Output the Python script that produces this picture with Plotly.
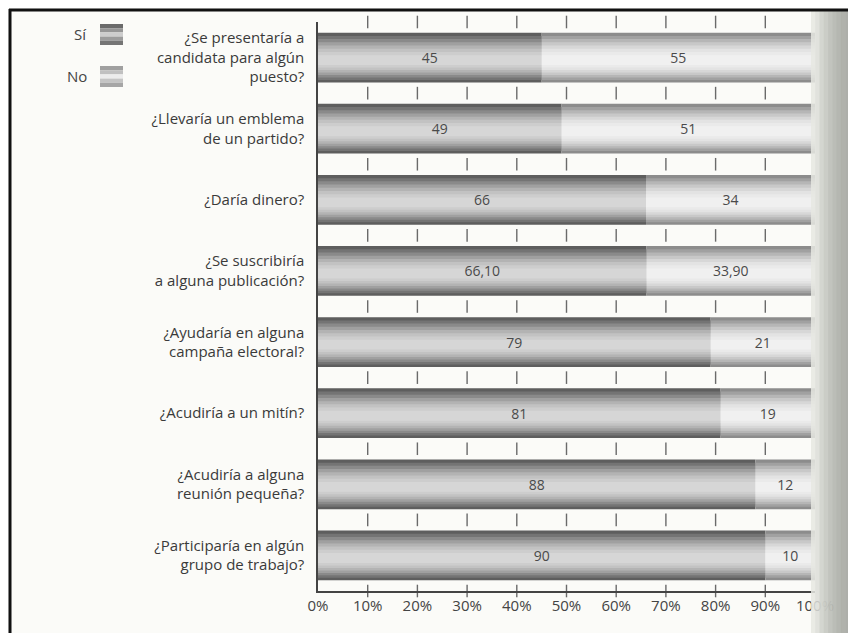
import plotly.graph_objects as go

# ---------------- data ----------------
categories = [
    "¿Se presentaría a<br>candidata para algún<br>puesto?",
    "¿Llevaría un emblema<br>de un partido?",
    "¿Daría dinero?",
    "¿Se suscribiría<br>a alguna publicación?",
    "¿Ayudaría en alguna<br>campaña electoral?",
    "¿Acudiría a un mitín?",
    "¿Acudiría a alguna<br>reunión pequeña?",
    "¿Participaría en algún<br>grupo de trabajo?",
]
si_values = [45, 49, 66, 66.10, 79, 81, 88, 90]
no_values = [55, 51, 34, 33.90, 21, 19, 12, 10]
series_names = ["Sí", "No"]
x_ticks = [0, 10, 20, 30, 40, 50, 60, 70, 80, 90, 100]
x_ticklabels = [f"{v}%" for v in x_ticks]


def fmt(v):
    if float(v).is_integer():
        return str(int(v))
    return f"{v:.2f}".replace(".", ",")


# ---------------- layout geometry (page pixels) ----------------
PAGE_W, PAGE_H = 856, 633
OFF = 8  # body margin of the html page
W, H = PAGE_W - OFF, PAGE_H - OFF
L, R, T, B = 318, 815, 22, 591  # page coordinates of plot area


def px(x):
    return (x - L) / (R - L)


def py(y):
    return 1 - (y - T) / (B - T)


ypos = list(range(len(categories)))

# gradient layers (outer -> inner)
widths = [0.70, 0.62, 0.54, 0.46, 0.38, 0.30, 0.22, 0.14]
si_cols = ["#5e5e5e", "#747474", "#8a8a8a", "#a0a0a0", "#b3b3b3", "#c2c2c2", "#cdcdcd", "#d6d6d6"]
no_cols = ["#8c8c8c", "#a1a1a1", "#b6b6b6", "#c8c8c8", "#d7d7d7", "#e3e3e3", "#eaeaea", "#f0f0f0"]

fig = go.Figure()

no_base = si_values
for k, w in enumerate(widths):
    shift = 0.045 * (1 - w / widths[0])
    fig.add_trace(go.Bar(
        y=ypos, x=si_values, base=[0] * len(si_values), orientation="h",
        width=w, offset=-w / 2 + shift,
        marker=dict(color=si_cols[k], line=dict(width=0)),
        showlegend=False, hoverinfo="skip",
    ))
    fig.add_trace(go.Bar(
        y=ypos, x=no_values, base=no_base, orientation="h",
        width=w, offset=-w / 2 + shift,
        marker=dict(color=no_cols[k], line=dict(width=0)),
        showlegend=False, hoverinfo="skip",
    ))

# text carriers
for vals, base, name in [(si_values, [0] * len(si_values), series_names[0]),
                         (no_values, no_base, series_names[1])]:
    fig.add_trace(go.Bar(
        y=ypos, x=vals, base=base, orientation="h", name=name,
        width=0.7, offset=-0.35,
        marker=dict(color="rgba(0,0,0,0)", line=dict(width=0)),
        text=[fmt(v) for v in vals], textposition="inside",
        insidetextanchor="middle", textangle=0,
        textfont=dict(family="Open Sans", size=14, color="#4a4a4a"),
        showlegend=False,
    ))

# short tick marks in the gaps between bars
gx, gy = [], []
for yv in [p - 0.5 for p in ypos] + [ypos[-1] + 0.5]:
    for xv in x_ticks[1:-1]:
        gx.append(xv)
        gy.append(yv)
fig.add_trace(go.Scatter(
    x=gx, y=gy, mode="markers", cliponaxis=False,
    marker=dict(symbol="line-ns", size=9, line=dict(width=1.4, color="#6a6a6a")),
    showlegend=False, hoverinfo="skip",
))

shapes = []
# page gutter at right (soft gradient)
gut_cols = ["#e6e7e2", "#dcddd8", "#d2d4ce", "#c8cac4", "#bfc1bb", "#b7b9b3",
            "#b1b3ad", "#acaea8", "#a9aba5", "#a7a9a3", "#a6a8a2"]
gx0 = 811
step = (PAGE_W + 2 - gx0) / len(gut_cols)
for i, c in enumerate(gut_cols):
    shapes.append(dict(type="rect", xref="paper", yref="paper",
                       x0=px(gx0 + i * step), x1=px(gx0 + (i + 1) * step + 0.5),
                       y0=py(11), y1=py(PAGE_H + 2),
                       fillcolor=c, opacity=0.85 if i < 2 else 0.95,
                       line=dict(width=0), layer="above"))
# frame (top and left)
shapes.append(dict(type="line", xref="paper", yref="paper",
                   x0=px(9), x1=px(PAGE_W + 2), y0=py(10), y1=py(10),
                   line=dict(color="#111111", width=3)))
shapes.append(dict(type="line", xref="paper", yref="paper",
                   x0=px(10), x1=px(10), y0=py(9), y1=py(PAGE_H + 2),
                   line=dict(color="#111111", width=3)))


# legend swatches
def swatch(y0, y1, cols):
    n = len(cols)
    h = (y1 - y0) / n
    for i, c in enumerate(cols):
        shapes.append(dict(type="rect", xref="paper", yref="paper",
                           x0=px(100), x1=px(123), y0=py(y0 + i * h), y1=py(y0 + (i + 1) * h),
                           fillcolor=c, line=dict(width=0)))


swatch(24, 45, ["#6a6a6a", "#969696", "#cdcdcd", "#9c9c9c", "#757575"])
swatch(66, 87, ["#a0a0a0", "#c0c0c0", "#ececec", "#c4c4c4", "#a6a6a6"])

annotations = [
    dict(text=series_names[0], xref="paper", yref="paper", x=px(89), y=py(34),
         xanchor="right", yanchor="middle", showarrow=False,
         font=dict(family="Open Sans", size=15, color="#444444")),
    dict(text=series_names[1], xref="paper", yref="paper", x=px(89), y=py(76),
         xanchor="right", yanchor="middle", showarrow=False,
         font=dict(family="Open Sans", size=15, color="#444444")),
]

fig.update_layout(
    width=W, height=H,
    margin=dict(l=L - OFF, r=PAGE_W - R, t=T - OFF, b=PAGE_H - B),
    barmode="overlay",
    paper_bgcolor="#fbfbf8", plot_bgcolor="#fbfbf8",
    font=dict(family="Open Sans", size=15, color="#3a3a3a"),
    shapes=shapes, annotations=annotations,
    showlegend=False,
    xaxis=dict(range=[0, 100], tickvals=x_ticks, ticktext=x_ticklabels,
               showgrid=False, zeroline=False, showline=True,
               linecolor="#444444", linewidth=1.5, ticks="",
               tickfont=dict(family="Open Sans", size=15, color="#444444")),
    yaxis=dict(range=[len(categories) - 0.5, -0.5], tickvals=ypos, ticktext=categories,
               showgrid=False, zeroline=False, showline=True,
               linecolor="#444444", linewidth=1.5, ticks="",
               ticklabelstandoff=9,
               tickfont=dict(family="Open Sans", size=15, color="#3a3a3a")),
)

fig.write_html("out.html")
